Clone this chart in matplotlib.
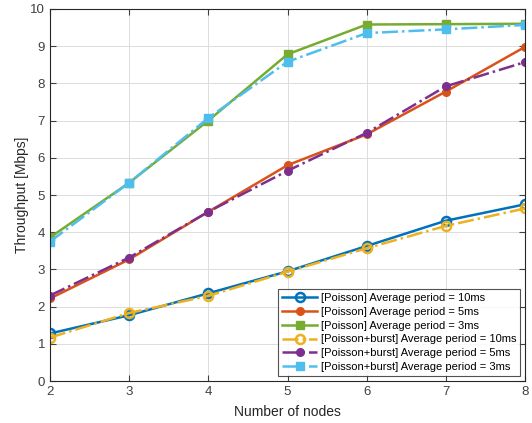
import numpy as np
import matplotlib.pyplot as plt

plt.rcParams['font.family'] = ['Liberation Sans', 'DejaVu Sans']

nodes = [2, 3, 4, 5, 6, 7, 8]

poisson_10ms = [1.28, 1.77, 2.36, 2.95, 3.63, 4.31, 4.75]
poisson_5ms = [2.22, 3.27, 4.55, 5.80, 6.63, 7.78, 8.98]
poisson_3ms = [3.86, 5.33, 7.00, 8.78, 9.58, 9.59, 9.60]
burst_10ms = [1.17, 1.83, 2.29, 2.94, 3.57, 4.17, 4.64]
burst_5ms = [2.30, 3.32, 4.55, 5.65, 6.67, 7.92, 8.57]
burst_3ms = [3.75, 5.33, 7.07, 8.58, 9.35, 9.45, 9.57]

labels = ['[Poisson] Average period = 10ms',
          '[Poisson] Average period = 5ms',
          '[Poisson] Average period = 3ms',
          '[Poisson+burst] Average period = 10ms',
          '[Poisson+burst] Average period = 5ms',
          '[Poisson+burst] Average period = 3ms']

fig = plt.figure(figsize=(5.32, 4.23), dpi=100)
ax = fig.add_axes([0.094, 0.099, 0.893, 0.880])

lw = 1.8
ax.plot(nodes, poisson_10ms, '-o', color='#0072BD', lw=lw, ms=6.5, mfc='none', mew=1.8, label=labels[0])
ax.plot(nodes, poisson_5ms, '-o', color='#D95319', lw=lw, ms=5.5, label=labels[1])
ax.plot(nodes, poisson_3ms, '-s', color='#77AC30', lw=lw, ms=5.5, label=labels[2])
ax.plot(nodes, burst_10ms, '-.o', color='#EDB120', lw=lw, ms=6.5, mfc='none', mew=1.8, label=labels[3])
ax.plot(nodes, burst_5ms, '-.o', color='#7E2F8E', lw=lw, ms=5.5, label=labels[4])
ax.plot(nodes, burst_3ms, '-.s', color='#4DBEEE', lw=lw, ms=5.5, label=labels[5])

ax.set_xlim(2, 8)
ax.set_ylim(0, 10)
ax.set_xticks(nodes)
ax.set_yticks(np.arange(0, 11, 1))
ax.grid(True, color='#dcdcdc', lw=0.7)
ax.tick_params(direction='in', labelsize=9.5, colors='#404040', length=4,
               top=True, right=True)
for s in ax.spines.values():
    s.set_color('#262626')
    s.set_linewidth(0.8)

ax.set_xlabel('Number of nodes', fontsize=10, color='#262626', labelpad=5)
ax.set_ylabel('Throughput [Mbps]', fontsize=10, color='#262626', labelpad=1)

leg = ax.legend(loc='lower right', fontsize=8, frameon=True, fancybox=False,
                edgecolor='#262626', handlelength=3.2, borderpad=0.35,
                labelspacing=0.35, handletextpad=0.3, borderaxespad=0.45)
leg.get_frame().set_linewidth(0.8)

fig.savefig('out.png', dpi=100)
